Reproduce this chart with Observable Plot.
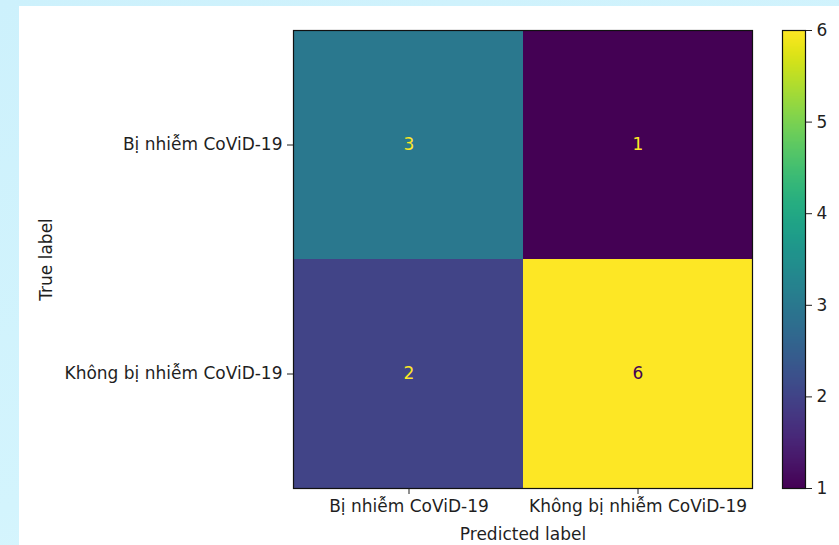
<!DOCTYPE html>
<html>
<head>
<meta charset="utf-8">
<script src="https://cdn.jsdelivr.net/npm/d3@7"></script>
<script src="https://cdn.jsdelivr.net/npm/@observablehq/plot@0.6"></script>
<style>
  html, body { margin: 0; padding: 0; }
  #page { position: relative; width: 839px; height: 545px; overflow: hidden;
          background: linear-gradient(160deg, #cdf1fc 0%, #d3f4fd 60%, #e3f8fe 100%); }
  #panel { position: absolute; left: 19px; top: 6px; width: 820px; height: 539px; background: #ffffff; }
  .layer { position: absolute; left: 0; top: 0; }
  svg { background: transparent !important; }
</style>
</head>
<body>
<div id="page">
  <div id="panel"></div>
  <div id="main" class="layer"></div>
  <div id="bar" class="layer"></div>
</div>
<script>
// ---- data ----
const labels = ["Bị nhiễm CoViD-19", "Không bị nhiễm CoViD-19"];
const trueLabels = ["Bị nhiễm CoViD-19", "Bị nhiễm CoViD-19", "Không bị nhiễm CoViD-19", "Không bị nhiễm CoViD-19"];
const predLabels = ["Bị nhiễm CoViD-19", "Không bị nhiễm CoViD-19", "Bị nhiễm CoViD-19", "Không bị nhiễm CoViD-19"];
const counts = [3, 1, 2, 6];
const colorbarTicks = [1, 2, 3, 4, 5, 6];

const cells = counts.map((v, i) => ({ t: trueLabels[i], p: predLabels[i], v }));
const vmin = d3.min(counts), vmax = d3.max(counts);
const thresh = (vmin + vmax) / 2;
const FONT = "'DejaVu Sans', sans-serif";
const INK = "#1f1f1f";

const main = Plot.plot({
  width: 839, height: 545,
  marginLeft: 293, marginRight: 87, marginTop: 30, marginBottom: 57,
  style: { fontFamily: FONT, fontSize: "17px", color: INK, background: "transparent" },
  x: { type: "band", domain: labels, padding: 0 },
  y: { type: "band", domain: labels, padding: 0 },
  color: { type: "linear", scheme: "viridis", domain: [vmin, vmax] },
  marks: [
    Plot.cell(cells, { x: "p", y: "t", fill: "v", inset: 0 }),
    Plot.text(cells, { filter: d => d.v < thresh, x: "p", y: "t", text: d => String(d.v), fill: "#fde725", fontSize: 17 }),
    Plot.text(cells, { filter: d => d.v >= thresh, x: "p", y: "t", text: d => String(d.v), fill: "#440154", fontSize: 17 }),
    Plot.frame({ stroke: "#111", strokeWidth: 1.2 }),
    Plot.axisX({ anchor: "bottom", tickSize: 6, tickPadding: 5, fontSize: 17,
                 label: "Predicted label", labelAnchor: "center", labelOffset: 51 }),
    Plot.axisY({ anchor: "left", tickSize: 6, tickPadding: 5, fontSize: 17,
                 label: "True label", labelAnchor: "center", labelOffset: 254 })
  ]
});
document.getElementById("main").appendChild(main);

const bar = Plot.plot({
  width: 839, height: 545,
  marginLeft: 782, marginRight: 34, marginTop: 30, marginBottom: 57,
  style: { fontFamily: FONT, fontSize: "17px", color: INK, background: "transparent" },
  x: { domain: [0, 1], axis: null },
  y: { domain: [vmin, vmax] },
  color: { type: "linear", scheme: "viridis", domain: [vmin, vmax] },
  marks: [
    Plot.raster({ x1: 0, x2: 1, y1: vmin, y2: vmax, width: 1, height: 256, fill: (x, y) => y, imageRendering: "auto" }),
    Plot.frame({ stroke: "#111", strokeWidth: 1.2 }),
    Plot.axisY({ anchor: "right", ticks: colorbarTicks, tickFormat: d3.format("d"), tickSize: 6, tickPadding: 5, fontSize: 17, label: null })
  ]
});
document.getElementById("bar").appendChild(bar);
</script>
</body>
</html>
